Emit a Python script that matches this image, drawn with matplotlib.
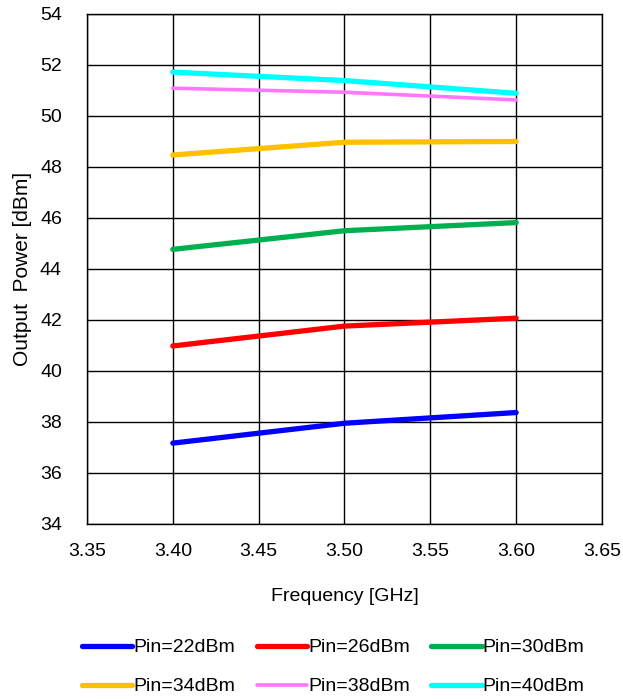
import matplotlib.pyplot as plt

plt.rcParams['font.family'] = ['Liberation Sans', 'DejaVu Sans']

freq = [3.40, 3.50, 3.60]
pin_labels = ['Pin=22dBm', 'Pin=26dBm', 'Pin=30dBm', 'Pin=34dBm', 'Pin=38dBm', 'Pin=40dBm']
pout_22 = [37.17, 37.95, 38.37]
pout_26 = [40.98, 41.76, 42.07]
pout_30 = [44.77, 45.50, 45.82]
pout_34 = [48.47, 48.97, 49.00]
pout_38 = [51.09, 50.93, 50.63]
pout_40 = [51.72, 51.39, 50.89]

series = [pout_22, pout_26, pout_30, pout_34, pout_38, pout_40]
colors = ['#0000FF', '#FF0000', '#00B050', '#FFC000', '#FF77FF', '#00FFFF']
widths = [3.8, 3.8, 3.8, 3.8, 2.6, 3.8]

fig = plt.figure(figsize=(6.23, 6.99), dpi=100)
ax = fig.add_axes([0.1396, 0.2504, 0.8267, 0.7296])

lines = []
for y, lab, c, w in zip(series, pin_labels, colors, widths):
    ln, = ax.plot(freq, y, color=c, linewidth=w, solid_capstyle='round', label=lab)
    lines.append(ln)

ax.set_xlim(3.35, 3.65)
ax.set_ylim(34, 54)
ax.set_xticks([3.35, 3.40, 3.45, 3.50, 3.55, 3.60, 3.65])
ax.set_xticklabels(['3.35', '3.40', '3.45', '3.50', '3.55', '3.60', '3.65'])
ax.set_yticks(range(34, 55, 2))
ax.tick_params(length=0, labelsize=14)
ax.tick_params(axis='x', pad=14)
ax.tick_params(axis='y', pad=18)
ax.grid(True, color='black', linewidth=1)
for s in ax.spines.values():
    s.set_color('black')
    s.set_linewidth(1)

ax.set_xlabel('Frequency [GHz]', fontsize=14, labelpad=20)
ax.set_ylabel('Output  Power [dBm]', fontsize=15, labelpad=6)

# legend fills column by column, so interleave rows
order = [0, 3, 1, 4, 2, 5]
fig.legend([lines[i] for i in order], [pin_labels[i] for i in order],
           loc='lower center', ncol=3, bbox_to_anchor=(0.535, -0.02), frameon=False,
           fontsize=14, handlelength=2.6, handletextpad=0.05, columnspacing=1.1,
           labelspacing=1.1)

fig.savefig('out.png', dpi=100)
